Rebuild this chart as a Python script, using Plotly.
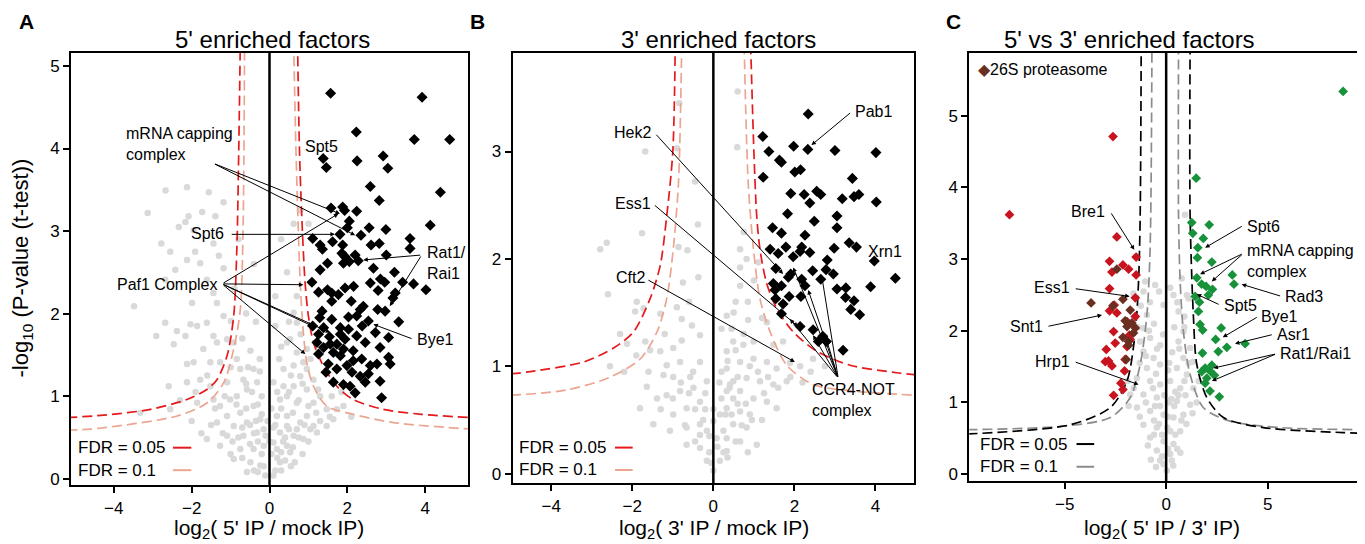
import plotly.graph_objects as go

FONT = "Liberation Sans, Arial, Helvetica, sans-serif"

# ---------------- Panel A: 5' IP vs mock ----------------
a_gray = [(-3.13,3.22),(-2.67,3.49),(-2.12,3.53),(-1.56,3.47),(-1.18,3.35),(-1.73,3.23),(-1.39,3.18),(-2.08,3.18),
          (-2.16,3.11),(-2.33,3.05),(-1.95,3.01),(-2.78,2.85),(-2.55,2.75),(-1.91,2.75),(-1.44,2.85),(-2.12,2.65),
          (-1.78,2.61),(-1.18,2.55),(-2.42,2.53),(-2.68,2.41),(-1.61,2.41),(-1.44,2.25),(-3.48,2.09),(-1.99,2.13),
          (-1.35,2.13),(-1.18,1.97),(-0.99,1.91),(-2.68,1.89),(-2.38,1.79),(-2.03,1.87),(-1.86,1.85),(-1.61,1.89),
          (-2.16,1.73),(-2.91,1.73),(-1.44,1.73),(-1.09,1.69),(-2.46,1.63),(-1.35,1.65),(-1.70,1.57),(-0.92,1.65),
          (-0.49,1.55),(-1.95,1.41),(-1.52,1.41),(-1.27,1.41),(-0.84,1.45),(-0.75,1.33),(-2.12,1.39),(-2.59,1.12),
          (-2.12,1.17),(-1.78,1.20),(-1.52,1.12),(-1.09,1.17),(-0.67,1.20),(-0.41,1.33),(-3.32,0.80),(-2.55,0.84),
          (-1.86,0.92),(-1.44,0.96),(-1.27,0.88),(-1.01,0.96),(-0.84,1.00),(-0.58,1.08),(-0.32,1.17),(-1.09,0.76),
          (-0.75,0.80),(-0.41,0.88),(-1.35,0.68),(-0.92,0.64),(-0.58,0.68),(-0.24,0.72),(-1.09,0.52),(-0.67,0.52),
          (-0.32,0.56),(-0.75,0.36),(-0.41,0.36),(-0.15,0.40),(-0.49,0.20),(-0.24,0.16),(-0.11,0.04),(-1.61,0.48),
          (-1.27,0.40),(-0.92,0.24),(-0.58,0.08),
          (0.10,0.04),(0.27,0.20),(0.19,0.36),(0.53,0.32),(0.62,0.52),(0.27,0.56),(0.79,0.68),(0.45,0.76),(0.96,0.76),
          (0.70,0.92),(0.27,0.96),(1.13,0.92),(1.47,0.84),(1.30,1.00),(0.96,1.08),(0.62,1.12),(0.79,1.24),(1.13,1.20),
          (1.73,0.84),(1.90,0.88),(1.64,0.72),(1.13,0.64),(0.87,0.48),(0.45,0.40),(0.10,0.44),(0.96,1.33),(0.62,1.37),
          (0.87,1.41),(0.96,1.57),(0.70,1.53),(0.53,1.69),(0.70,1.89),(0.62,2.01),(0.70,2.21),(0.15,2.21),(0.62,3.09),
          (0.79,3.25),(1.00,3.09),(0.45,1.65),(0.36,1.33),(0.36,1.12),(0.19,0.76),(0.10,1.17),(1.47,0.64),(1.22,0.56),
          (0.70,0.60),(0.45,0.64),
          (0.30,0.10),(-0.30,0.08),(0.20,0.25),(-0.20,0.30),(0.40,0.50),(-0.40,0.55),(0.50,0.60),(-0.50,0.65),
          (0.30,0.85),(-0.30,0.90),(0.60,0.80),(-0.60,0.85),(0.45,1.00),(-0.45,1.05),(0.05,0.30),(0.55,0.15),
          (-0.15,0.60),(0.15,0.65),(-0.80,0.50),(0.85,0.30),(1.00,0.45),(-1.00,0.30),(1.20,0.80),(-0.20,1.00),
          (0.25,1.45),(-0.25,1.30),(0.50,1.90),(-0.60,2.00),(-0.90,2.30),(-1.30,2.70),
          (-1.20,0.55),(-0.95,0.45),(-0.70,0.62),(-0.50,0.42),(-0.35,0.70),(-0.10,0.52),(0.10,0.62),(0.35,0.45),
          (0.60,0.38),(0.75,0.50),(1.05,0.60),(1.30,0.70),(1.55,0.75),(-1.40,0.85),(-1.15,1.00),(-0.85,0.90),
          (-0.60,1.15),(-0.20,0.78),(0.05,0.85),(0.20,1.05),(0.50,1.05),(0.75,0.95),(1.00,0.88),(1.25,1.08),
          (-0.25,1.45),(-0.55,1.35),(0.30,1.60),(0.55,1.25),(0.15,1.85),(-0.35,1.90),(-0.70,1.70),(-1.00,1.35),
          (-1.60,1.25),(-1.90,1.05),(-2.30,0.95),(0.85,1.15),(1.05,1.45),(0.80,1.75),(-0.15,0.15),(0.15,0.10),
          (0.40,0.22),(-0.40,0.10),(0.65,0.20),(-0.70,0.25),(0.00,0.45),(-0.05,0.70),(0.30,0.32),(-0.30,0.45),
          (0.90,0.65),(-1.50,0.65),(1.60,1.00),(1.85,1.05),(2.10,0.75),(-2.00,0.70),(-1.75,0.55),(0.45,2.50),
          (-0.40,2.60),(0.30,2.90),(-0.80,2.90)]

a_sig = [(1.57,4.67),(3.92,4.62),(2.23,4.20),(3.72,4.11),(4.63,4.11),(1.38,3.88),(2.25,3.85),(2.92,3.91),(1.46,3.77),
         (3.04,3.76),(2.59,3.54),(4.39,3.47),(2.82,3.37),(1.58,3.28),(1.88,3.29),(1.93,3.25),(2.24,3.24),(2.05,3.12),
         (2.56,3.04),(2.99,3.02),(4.13,3.07),(2.00,3.04),(1.81,2.96),(2.35,2.95),(3.61,2.91),(1.11,2.91),
         (1.30,2.83),(1.62,2.87),(1.88,2.83),(2.61,2.83),(2.82,2.85),(3.61,2.79),(1.36,2.78),(1.86,2.73),(1.94,2.69),
         (2.20,2.71),(3.00,2.71),(2.05,2.63),(1.90,2.61),(1.49,2.61),(2.28,2.64),(1.30,2.53),(2.67,2.55),(3.21,2.50),
         (1.09,2.38),(2.59,2.37),(2.85,2.42),(2.96,2.38),(3.42,2.38),(3.70,2.36),(4.02,2.29),(2.79,2.28),(1.26,2.26),
         (1.49,2.29),(1.60,2.25),(1.77,2.23),(1.94,2.31),(2.16,2.33),(3.23,2.25),(3.17,2.19),(1.60,2.15),(2.10,2.15),
         (2.41,2.09),(2.78,2.05),(2.97,2.03),(1.35,2.03),(2.33,2.05),(2.24,1.97),(2.03,1.96),(1.29,1.95),(1.60,1.93),
         (2.54,1.91),(3.32,1.90),(1.11,1.85),(1.39,1.83),(1.82,1.83),(2.03,1.81),(2.38,1.85),(1.82,1.75),(2.72,1.77),
         (1.26,1.75),(1.54,1.72),(1.94,1.69),(2.24,1.73),(3.06,1.71),(2.46,1.65),(1.22,1.65),(1.56,1.63),(1.73,1.63),
         (2.84,1.59),(1.39,1.59),(1.90,1.57),(2.15,1.55),(1.64,1.53),(1.26,1.51),(1.82,1.49),(2.15,1.43),(2.37,1.45),
         (3.06,1.47),(3.10,1.39),(1.51,1.39),(1.99,1.37),(2.59,1.37),(2.76,1.39),(1.73,1.33),(2.12,1.29),(1.45,1.29),
         (2.33,1.24),(2.54,1.27),(1.64,1.17),(1.90,1.14),(2.46,1.17),(2.84,1.18),(2.20,1.04),(2.88,0.98),(2.07,1.12)]

a_fdr05_right = [(0.72,5.3),(0.77,3.98),(0.83,3.17),(0.915,2.37),(1.00,1.97),(1.13,1.65),(1.38,1.37),(1.73,1.12),
                 (2.15,0.96),(2.92,0.84),(3.90,0.78),(5.20,0.74)]
a_fdr05_left = [(-5.20,0.74),(-4.26,0.77),(-3.06,0.84),(-2.12,0.96),(-1.61,1.08),(-1.35,1.20),(-1.09,1.49),
                (-0.92,1.97),(-0.84,2.77),(-0.79,3.98),(-0.75,5.3)]
a_fdr10_right = [(0.62,5.3),(0.68,3.98),(0.79,2.37),(0.87,1.77),(0.96,1.40),(1.13,1.12),(1.47,0.88),(2.15,0.78),
                 (3.18,0.68),(5.20,0.60)]
a_fdr10_left = [(-5.20,0.59),(-4.60,0.60),(-2.37,0.76),(-1.60,0.92),(-1.18,1.16),(-0.92,1.57),(-0.75,2.05),
                (-0.68,3.00),(-0.64,5.3)]

# ---------------- Panel B: 3' IP vs mock ----------------
b_gray = [(0.60,3.56),(-0.84,3.45),(0.59,3.04),(-0.90,3.03),(-1.68,3.00),(-0.45,2.72),(-0.38,2.32),(-1.76,2.24),
          (-2.63,2.15),(-2.79,2.09),(-0.86,2.11),(-0.64,2.08),(0.66,2.09),(0.82,2.00),(1.11,1.97),(0.66,1.92),
          (-2.60,1.67),(-0.75,1.78),(-0.37,1.83),(0.66,1.75),(-1.89,1.60),(-1.72,1.54),(-1.93,1.51),(-1.31,1.49),
          (-0.78,1.44),(-0.53,1.38),(0.33,1.47),(0.86,1.43),(1.32,1.41),(-2.13,1.21),(-1.68,1.23),(-0.78,1.24),
          (-0.33,1.29),(0.49,1.23),(0.74,1.20),(0.99,1.23),(1.48,1.20),(1.72,1.23),(-1.56,1.15),(-1.31,1.14),
          (-0.99,1.17),(-1.15,1.01),(-0.82,1.04),(-0.33,1.04),(0.33,1.14),(0.66,1.04),(0.99,1.07),(1.32,1.04),
          (1.56,0.98),(1.89,1.03),(2.14,1.00),(2.46,1.07),(-1.23,0.92),(-0.99,0.90),(-0.57,0.90),(-1.64,0.81),
          (-1.39,0.70),(-1.15,0.73),(-0.82,0.77),(-0.49,0.80),(-0.16,0.86),(0.33,0.98),(0.49,0.86),(0.82,0.89),
          (1.15,0.86),(1.48,0.83),(1.81,0.86),(0.99,0.70),(1.32,0.67),(1.56,0.61),(-1.81,0.61),(-1.48,0.46),
          (-0.99,0.55),(-0.66,0.61),(-0.33,0.67),(-1.07,0.40),(-0.66,0.43),(-0.33,0.46),(0.00,0.49),(0.33,0.61),
          (0.66,0.58),(0.49,0.46),(0.82,0.43),(1.07,0.27),(0.66,0.30),(0.33,0.33),(-0.33,0.24),(-0.66,0.27),
          (-0.16,0.12),(0.16,0.12),(0.00,0.03),(0.33,0.21),(0.49,0.70),(0.41,0.83),(0.33,0.77),(0.66,0.77),
          (0.16,0.55),(-0.16,0.40),(0.08,0.33),(-0.33,0.36),(0.20,0.95),(0.45,1.35),(0.55,1.60),(-0.20,0.60),
          (0.25,0.20),(-0.10,0.20),(0.90,0.55),(1.20,0.50),(2.40,0.95),(2.75,1.00),(-2.20,0.95),(-2.55,1.00),
          (0.20,0.70),(0.45,0.55),(0.60,0.90),(0.80,0.65),(0.90,1.00),(1.10,0.95),(1.25,0.75),(0.35,1.05),
          (0.55,1.15),(0.75,1.30),(0.25,0.40),(0.10,0.25),(-0.10,0.35),(-0.25,0.50),(-0.45,0.60),(-0.60,0.75),
          (-0.80,0.85),(-0.50,0.95),(-0.20,0.75),(0.00,0.60),(0.15,0.85),(0.40,0.80),(0.70,0.45),(0.95,0.50),
          (1.35,0.90),(1.60,0.80),(1.90,0.90),(2.20,0.85),(-1.00,0.70),(-1.30,0.60),(-1.60,0.95),(-1.90,1.10),
          (-2.30,1.30),(-1.20,1.30),(-0.90,1.55),(-0.60,1.60),(0.20,1.35),(0.50,1.50),(0.85,1.60),(1.20,1.45),
          (1.00,1.80),(0.75,2.25),(0.35,0.15),(-0.05,0.10),(0.55,0.30),(0.85,0.20),(-0.45,0.30),(-0.70,0.45),
          (0.60,0.65),(0.30,0.55)]

b_sig = [(2.34,3.35),(1.22,3.14),(1.37,3.00),(1.98,3.05),(2.33,3.02),(3.00,3.01),(4.01,2.99),(1.63,2.92),(1.68,2.90),
         (2.01,2.81),(2.15,2.83),(1.23,2.76),(3.43,2.75),(1.91,2.61),(2.24,2.60),(2.55,2.63),(2.65,2.60),(2.38,2.52),
         (3.18,2.56),(3.47,2.58),(3.59,2.60),(4.02,2.53),(1.83,2.42),(3.05,2.40),(2.49,2.35),(1.46,2.29),(1.68,2.24),
         (2.26,2.22),(3.05,2.29),(3.35,2.15),(3.53,2.11),(2.98,2.10),(1.40,2.09),(1.79,2.11),(2.18,2.11),(2.14,2.07),
         (2.38,2.06),(1.60,2.05),(1.97,2.02),(2.81,1.99),(3.97,1.98),(1.54,1.91),(2.45,1.89),(2.78,1.90),(2.96,1.86),
         (1.91,1.86),(1.85,1.83),(4.49,1.82),(2.65,1.81),(2.18,1.81),(1.48,1.77),(1.68,1.75),(2.26,1.75),(3.05,1.72),
         (3.27,1.73),(3.88,1.74),(1.52,1.71),(1.87,1.65),(2.16,1.65),(1.54,1.63),(3.26,1.64),(3.47,1.61),(3.39,1.53),
         (3.61,1.48),(1.68,1.49),(2.14,1.37),(2.46,1.34),(2.59,1.23),(2.79,1.23),(3.20,1.15),(1.72,1.58),(2.70,1.28)]

b_fdr05_right = [(0.92,4.0),(1.00,3.00),(1.07,2.40),(1.15,2.09),(1.31,1.78),(1.56,1.54),(1.97,1.32),(2.55,1.14),
                 (3.37,1.01),(4.52,0.94),(5.00,0.92)]
b_fdr05_left = [(-5.00,0.93),(-4.52,0.95),(-3.20,1.04),(-2.46,1.17),(-1.97,1.32),(-1.56,1.63),(-1.31,1.94),
                (-1.15,2.40),(-1.00,3.00),(-0.94,4.0)]
b_fdr10_right = [(0.76,4.0),(0.86,2.71),(0.99,2.09),(1.15,1.63),(1.40,1.32),(1.81,1.01),(2.46,0.83),(3.45,0.77),
                 (4.52,0.74),(5.00,0.73)]
b_fdr10_left = [(-5.00,0.73),(-3.61,0.78),(-2.54,0.90),(-1.80,1.07),(-1.39,1.32),(-1.15,1.63),(-0.99,2.09),
                (-0.86,2.71),(-0.78,4.0)]

# ---------------- Panel C: 5' vs 3' ----------------
c_gray = [(0.93,3.62),(-0.54,2.64),(-1.12,2.55),(1.10,2.45),(0.61,2.27),(-0.95,2.22),(-1.12,2.04),(0.85,1.99),
          (-0.79,1.90),(-1.28,1.85),(0.61,1.85),(1.18,1.76),(-0.30,1.80),(-1.12,1.71),(-0.62,1.62),(0.85,1.62),
          (1.34,1.57),(-0.95,1.48),(-0.30,1.53),(0.53,1.48),(1.02,1.39),(-1.44,1.34),(-0.79,1.30),(-0.30,1.25),
          (0.20,1.30),(0.69,1.20),(1.34,1.20),(-1.77,1.11),(-1.12,1.11),(-0.46,1.07),(0.53,1.02),(1.18,0.97),
          (-1.44,0.93),(-0.79,0.88),(-0.13,0.83),(0.36,0.79),(0.85,0.83),(-1.12,0.69),(-0.46,0.65),(0.20,0.60),
          (0.69,0.60),(-0.79,0.51),(-0.13,0.46),(0.36,0.42),(-0.46,0.33),(0.20,0.28),(-0.13,0.14),(0.03,0.05),
          (-0.30,0.19),(0.28,0.19),(-1.03,2.69),(-1.61,2.52),(0.77,2.73),(1.02,2.50),(0.36,2.50),(-0.13,2.36),
          (-0.60,2.10),(-0.45,1.75),(0.30,1.70),(0.10,1.45),(-0.10,1.10),(0.15,1.00),(-0.65,1.20),(0.45,1.15),
          (-0.30,0.95),(0.55,0.35),(-0.60,0.75),(0.05,0.65),(-0.20,0.55),(0.40,0.95),(0.95,1.10),(-1.30,1.55),
          (1.50,1.00),(-1.90,1.30),(0.90,2.20),(-0.80,2.40),
          (-0.90,0.40),(-0.60,0.55),(-0.35,0.70),(0.10,0.35),(0.45,0.55),(0.75,0.75),(1.00,0.70),(-1.30,0.80),
          (-1.00,1.00),(-0.55,0.95),(0.25,1.05),(0.60,1.10),(0.90,1.30),(-1.60,1.20),(-1.00,1.65),(-0.50,1.40),
          (0.15,1.55),(0.65,1.75),(1.10,1.55),(-1.40,2.05),(-0.85,2.00),(0.40,2.05),(0.55,2.40),(-0.35,2.55),
          (-1.25,2.35),(0.10,0.80),(-0.20,0.25),(0.35,0.12),(-0.50,0.10),(0.70,0.30),(-0.75,0.20),(1.30,0.85),
          (-1.85,0.95),(1.60,1.30),(0.90,2.05),(-0.15,1.95),(0.20,2.60)]

c_red = [(-2.62,4.71),(-7.72,3.62),(-2.43,3.31),(-1.48,3.03),(-2.79,2.97),(-2.13,2.92),(-1.85,2.86),(-2.67,2.82),
         (-1.48,2.78),(-2.79,2.59),(-1.52,2.46),(-2.56,2.36),(-2.79,2.28),(-2.43,2.25),(-1.52,2.20),(-1.93,2.13),
         (-2.59,1.99),(-1.81,1.94),(-2.51,1.83),(-1.77,1.88),(-2.95,1.74),(-1.93,1.78),(-3.00,1.57),(-2.67,1.51),
         (-2.02,1.60),(-2.05,1.44),(-2.23,1.27),(-2.13,1.18),(-2.59,1.10),(-2.84,1.58)]
c_brown = [(-3.70,2.39),(-2.43,2.86),(-2.13,2.44),(-2.62,2.35),(-1.77,2.29),(-2.02,2.14),(-1.69,2.11),(-1.93,2.06),
           (-2.13,1.91),(-1.85,1.85),(-1.52,2.04),(-1.61,1.97),(-1.97,1.60),(-1.85,1.80)]
c_green = [(8.72,5.34),(1.48,4.13),(1.26,3.51),(2.12,3.48),(1.31,3.36),(1.83,3.29),(1.56,3.16),(1.54,3.02),
           (2.25,2.96),(1.51,2.74),(3.26,2.78),(3.34,2.65),(1.75,2.65),(1.97,2.62),(2.28,2.58),(2.08,2.50),
           (1.43,2.48),(1.64,2.40),(1.59,2.27),(1.67,2.09),(1.80,2.01),(2.71,2.04),(2.44,1.88),(2.99,1.77),
           (3.89,1.82),(2.57,1.71),(1.79,1.69),(2.25,1.52),(1.92,1.48),(1.75,1.43),(2.16,1.44),(2.38,1.38),
           (2.00,1.34),(1.92,1.27),(2.16,1.16),(2.62,1.08)]

c_fdr05_right = [(1.18,6.0),(1.18,3.61),(1.34,2.22),(1.51,1.53),(2.00,1.07),(2.82,0.79),(4.79,0.65),(8.72,0.58),(9.80,0.57)]
c_fdr05_left = [(-9.80,0.56),(-4.72,0.69),(-2.75,0.93),(-1.93,1.30),(-1.52,1.99),(-1.36,2.69),(-1.28,3.61),(-1.23,6.0)]
c_fdr10_right = [(0.61,6.0),(0.61,3.61),(0.69,2.69),(0.85,1.99),(1.18,1.39),(1.83,0.93),(3.15,0.74),(5.60,0.65),(9.80,0.62)]
c_fdr10_left = [(-9.80,0.62),(-5.05,0.67),(-2.75,0.79),(-1.77,1.07),(-1.28,1.53),(-0.95,2.22),(-0.79,3.15),(-0.70,6.0)]

a_xticks = [-4, -2, 0, 2, 4]
a_yticks = [0, 1, 2, 3, 4, 5]
b_xticks = [-4, -2, 0, 2, 4]
b_yticks = [0, 1, 2, 3]
c_xticks = [-5, 0, 5]
c_yticks = [0, 1, 2, 3, 4, 5]

GRAY = "#d9d9d9"
RED = "#e41a1c"
SALMON = "#eba591"
C_RED = "#c8141e"
C_BROWN = "#6b2f22"
C_GREEN = "#17923b"

# page body has an 8px margin: figure occupies screen px 8..1365 x 8..544
OFF = 8
W = 1365 - OFF
H = 544 - OFF


def fx(px):
    return (px - OFF) / W


def fy(py):
    return (544 - py) / H


def xs(p):
    return [q[0] for q in p]


def ys(p):
    return [q[1] for q in p]


fig = go.Figure()


def pts(p, ax, color, symbol, size):
    fig.add_trace(go.Scatter(x=xs(p), y=ys(p), xaxis=ax[0], yaxis=ax[1], mode="markers",
                             marker=dict(color=color, symbol=symbol, size=size, line=dict(width=0)),
                             hoverinfo="skip"))


def curve(p, ax, color, dash):
    fig.add_trace(go.Scatter(x=xs(p), y=ys(p), xaxis=ax[0], yaxis=ax[1], mode="lines",
                             line=dict(color=color, width=1.7, dash=dash, shape="spline", smoothing=0.8),
                             hoverinfo="skip"))


DASH = "10px,5px"
A = ("x", "y")
B = ("x2", "y2")
C = ("x3", "y3")

pts(a_gray, A, GRAY, "circle", 6.5)
curve(a_fdr10_left, A, SALMON, DASH)
curve(a_fdr10_right, A, SALMON, DASH)
curve(a_fdr05_left, A, RED, DASH)
curve(a_fdr05_right, A, RED, DASH)
pts(a_sig, A, "black", "diamond", 8.5)

pts(b_gray, B, GRAY, "circle", 6.5)
curve(b_fdr10_left, B, SALMON, DASH)
curve(b_fdr10_right, B, SALMON, DASH)
curve(b_fdr05_left, B, RED, DASH)
curve(b_fdr05_right, B, RED, DASH)
pts(b_sig, B, "black", "diamond", 8.5)

pts(c_gray, C, GRAY, "circle", 6.5)
curve(c_fdr10_left, C, "#8c8c8c", DASH)
curve(c_fdr10_right, C, "#8c8c8c", DASH)
curve(c_fdr05_left, C, "black", DASH)
curve(c_fdr05_right, C, "black", DASH)
pts(c_red, C, C_RED, "diamond", 7.5)
pts(c_brown, C, C_BROWN, "diamond", 7.5)
pts(c_green, C, C_GREEN, "diamond", 7.5)


def axis(domain, rng, ticks, anchor):
    return dict(domain=domain, range=rng, tickvals=ticks, anchor=anchor, showline=True, linecolor="black",
                linewidth=2, mirror=True, ticks="outside", ticklen=6, tickwidth=1.5, tickcolor="black",
                showgrid=False, zeroline=False, tickfont=dict(size=17, family=FONT, color="black"))


layout = dict(
    width=W, height=H, margin=dict(l=0, r=0, t=0, b=0), showlegend=False,
    plot_bgcolor="white", paper_bgcolor="white", font=dict(family=FONT, color="black"),
    xaxis=axis([fx(71), fx(468)], [-5.1, 5.1], a_xticks, "y"),
    yaxis=axis([fy(488), fy(53)], [-0.08, 5.16], a_yticks, "x"),
    xaxis2=axis([fx(512.7), fx(914)], [-4.95, 4.95], b_xticks, "y2"),
    yaxis2=axis([fy(486), fy(53)], [-0.09, 3.92], b_yticks, "x2"),
    xaxis3=axis([fx(969.3), min(fx(1362), 1.0)], [-9.7, 9.65], c_xticks, "y3"),
    yaxis3=axis([fy(484), fy(53)], [-0.1, 5.88], c_yticks, "x3"),
)
fig.update_layout(**layout)

shapes = []
for xr, yr in [A, B, C]:
    shapes.append(dict(type="line", xref=xr, yref=yr + " domain", x0=0, x1=0, y0=0, y1=1,
                       line=dict(color="black", width=2.5), layer="above"))

annotations = []


def text(ax, x, y, t, xanchor="left", size=16, yanchor="middle"):
    annotations.append(dict(xref=ax[0], yref=ax[1], x=x, y=y, text=t, showarrow=False, xanchor=xanchor,
                            yanchor=yanchor, align="left", font=dict(size=size, family=FONT, color="black")))


def arrow(ax, tail, head):
    annotations.append(dict(xref=ax[0], yref=ax[1], axref=ax[0], ayref=ax[1], x=head[0], y=head[1],
                            ax=tail[0], ay=tail[1], text="", showarrow=True, arrowhead=2, arrowsize=0.9,
                            arrowwidth=1, arrowcolor="black", standoff=0, startstandoff=0))


# legends (FDR)
for (xr, yr), c05, c10, tx, l0, l1, y1, y2 in [
        (A, RED, SALMON, 0.013, 0.257, 0.303, 0.087, 0.035),
        (B, RED, SALMON, 0.010, 0.255, 0.299, 0.083, 0.031),
        (C, "black", "#8c8c8c", 0.023, 0.273, 0.318, 0.087, 0.034)]:
    for yy, col, lab in [(y1, c05, "FDR = 0.05"), (y2, c10, "FDR = 0.1")]:
        annotations.append(dict(xref=xr + " domain", yref=yr + " domain", x=tx, y=yy, text=lab, showarrow=False,
                                xanchor="left", yanchor="middle", font=dict(size=17, family=FONT, color="black")))
        shapes.append(dict(type="line", xref=xr + " domain", yref=yr + " domain", x0=l0, x1=l1, y0=yy, y1=yy,
                           line=dict(color=col, width=2)))

# Panel A labels
text(A, -3.75, 4.05, "mRNA capping<br>complex")
arrow(A, (-1.44, 3.82), (1.81, 3.21))
arrow(A, (-1.44, 3.82), (2.20, 2.95))
text(A, 1.34, 4.02, "Spt5", xanchor="center")
text(A, -1.12, 2.97, "Spt6", xanchor="right")
arrow(A, (-1.01, 2.96), (1.68, 2.96))
text(A, -1.28, 2.35, "Paf1 Complex", xanchor="right")
for h in [(1.77, 3.21), (0.87, 2.35), (1.10, 1.85), (1.56, 1.77), (0.92, 1.51)]:
    arrow(A, (-1.22, 2.36), h)
text(A, 4.0, 2.61, "Rat1/<br>Rai1")
arrow(A, (3.91, 2.71), (2.41, 2.65))
arrow(A, (3.91, 2.71), (3.09, 2.09))
text(A, 3.74, 1.69, "Bye1")
arrow(A, (3.69, 1.69), (2.67, 1.87))

# Panel B labels
text(B, 3.45, 3.37, "Pab1")
arrow(B, (3.41, 3.37), (2.42, 3.06))
text(B, -1.48, 3.18, "Hek2", xanchor="right")
arrow(B, (-1.44, 3.17), (1.72, 1.86))
text(B, -1.48, 2.52, "Ess1", xanchor="right")
arrow(B, (-1.48, 2.51), (2.09, 1.37))
text(B, -1.64, 1.83, "Cft2", xanchor="right")
arrow(B, (-1.64, 1.81), (2.01, 1.04))
text(B, 4.23, 2.07, "Xrn1", xanchor="center")
text(B, 2.38, 0.69, "CCR4-NOT<br>complex")
for h in [(1.97, 1.92), (2.34, 1.71), (2.67, 1.85), (2.46, 1.29), (1.89, 1.44), (2.75, 1.30)]:
    arrow(B, (3.08, 0.89), h)

# Panel C labels
annotations.append(dict(xref="x3", yref="y3", x=-9.35, y=5.65, showarrow=False, xanchor="left", yanchor="middle",
                        text="<span style='color:%s'>◆</span>26S proteasome" % C_BROWN,
                        font=dict(size=16, family=FONT, color="black")))
text(C, -2.92, 3.67, "Bre1", xanchor="right")
arrow(C, (-2.75, 3.66), (-1.57, 3.13))
text(C, -4.64, 2.60, "Ess1", xanchor="right")
arrow(C, (-4.53, 2.59), (-1.80, 2.48))
text(C, -5.95, 2.06, "Snt1", xanchor="right")
arrow(C, (-5.87, 2.06), (-3.16, 2.22))
text(C, -4.64, 1.57, "Hrp1", xanchor="right")
arrow(C, (-4.53, 1.57), (-1.36, 1.25))
text(C, 3.89, 3.46, "Spt6")
arrow(C, (3.80, 3.47), (1.92, 3.16))
text(C, 3.89, 2.97, "mRNA capping<br>complex")
arrow(C, (3.80, 3.08), (1.67, 2.79))
arrow(C, (3.80, 3.08), (2.25, 2.69))
text(C, 5.77, 2.48, "Rad3")
arrow(C, (5.69, 2.48), (3.72, 2.65))
text(C, 2.74, 2.36, "Spt5")
arrow(C, (2.66, 2.36), (1.51, 2.51))
text(C, 4.59, 2.20, "Bye1")
arrow(C, (4.54, 2.20), (2.79, 1.91))
text(C, 5.36, 1.95, "Asr1")
arrow(C, (5.28, 1.95), (3.39, 1.82))
text(C, 5.52, 1.69, "Rat1/Rai1")
arrow(C, (5.44, 1.68), (2.33, 1.48))
arrow(C, (5.44, 1.68), (2.25, 1.30))


def paper_text(px, py, t, size, angle=0, bold=False):
    annotations.append(dict(xref="paper", yref="paper", x=fx(px), y=fy(py), text=("<b>%s</b>" % t) if bold else t,
                            showarrow=False, xanchor="center", yanchor="middle", textangle=angle,
                            font=dict(size=size, family=FONT, color="black")))


paper_text(26, 22, "A", 21, bold=True)
paper_text(477, 22, "B", 21, bold=True)
paper_text(953, 22, "C", 21, bold=True)
paper_text(272, 40, "5' enriched factors", 24)
paper_text(718, 40, "3' enriched factors", 24)
paper_text(1129, 40, "5' vs 3' enriched factors", 24)
paper_text(269, 532, "log<sub>2</sub>( 5' IP / mock IP)", 21)
paper_text(714, 532, "log<sub>2</sub>( 3' IP / mock IP)", 21)
paper_text(1162, 532, "log<sub>2</sub>( 5' IP / 3' IP)", 21)
paper_text(22, 270, "-log<sub>10</sub> (P-value (t-test))", 22, angle=-90)

fig.update_layout(shapes=shapes, annotations=annotations)
fig.write_html("out.html")
